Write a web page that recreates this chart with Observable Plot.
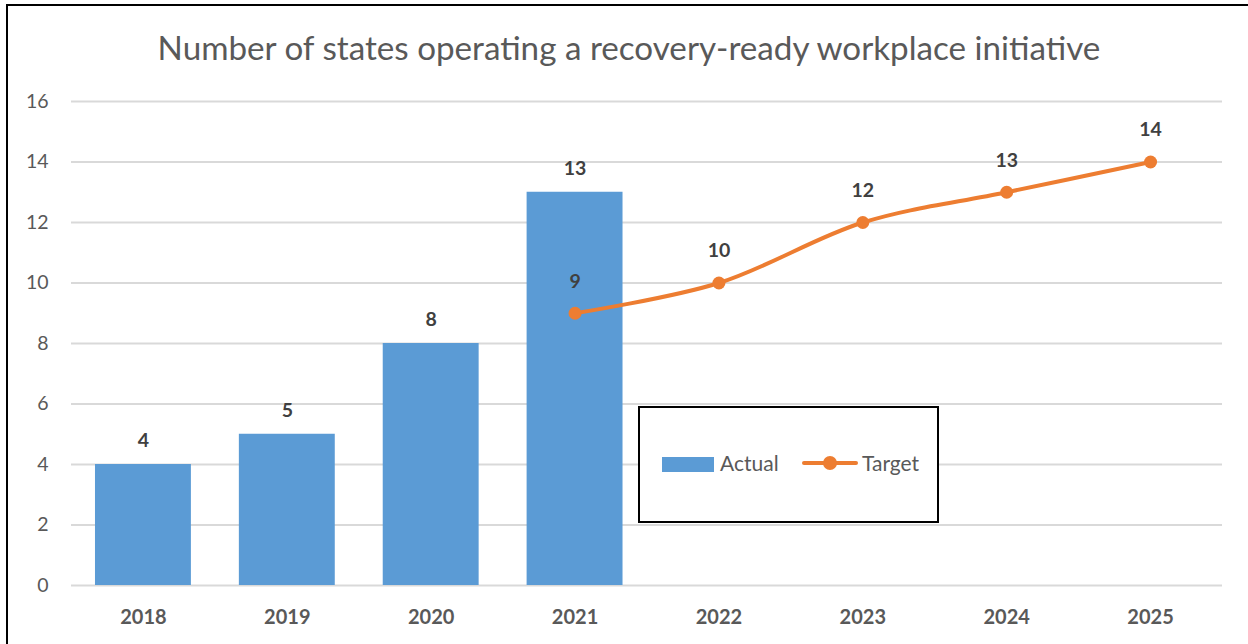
<!DOCTYPE html>
<html>
<head>
<meta charset="utf-8">
<script src="https://cdn.jsdelivr.net/npm/d3@7"></script>
<script src="https://cdn.jsdelivr.net/npm/@observablehq/plot@0.6"></script>
<style>
  html, body { margin: 0; padding: 0; background: #fff; }
  #wrap { position: relative; width: 1248px; height: 644px; overflow: hidden; font-family: Lato, "Open Sans", sans-serif; }
  #frame { position: absolute; left: 6px; top: 4px; width: 1260px; height: 700px; border: 2px solid #000; box-sizing: border-box; }
  #title { position: absolute; left: 0; top: 0; width: 1258px; height: 80px; text-align: center; line-height: 94px; font-size: 33.2px; color: #595959; }
  #chart { position: absolute; left: 0; top: 80px; }
  #legend { position: absolute; left: 638px; top: 406px; width: 301px; height: 117px; border: 2px solid #000; box-sizing: border-box; background: #fff; font-size: 21px; color: #595959; }
  .sw { position: absolute; }
</style>
</head>
<body>
<div id="wrap">
  <div id="frame"></div>
  <div id="title">Number of states operating a recovery-ready workplace initiative</div>
  <div id="chart"></div>
  <div id="legend">
    <div class="sw" style="left:22px;top:49px;width:52px;height:15px;background:#5B9BD5"></div>
    <div class="sw" style="left:80px;top:42px;">Actual</div>
    <div class="sw" style="left:162px;top:53px;width:56px;height:4px;background:#ED7D31;border-radius:2px"></div>
    <div class="sw" style="left:183px;top:48px;width:14px;height:14px;background:#ED7D31;border-radius:50%"></div>
    <div class="sw" style="left:222px;top:42px;">Target</div>
  </div>
</div>
<script>
const years = ["2018","2019","2020","2021","2022","2023","2024","2025"];
const actualYears = ["2018","2019","2020","2021"];
const actualValues = [4, 5, 8, 13];
const targetYears = ["2021","2022","2023","2024","2025"];
const targetValues = [9, 10, 12, 13, 14];
const yTicks = [0, 2, 4, 6, 8, 10, 12, 14, 16];

const actual = actualYears.map((y, i) => ({year: y, value: actualValues[i]}));
const target = targetYears.map((y, i) => ({year: y, value: targetValues[i]}));

const chart = Plot.plot({
  width: 1248,
  height: 564,
  marginLeft: 71,
  marginRight: 26,
  marginTop: 21,
  marginBottom: 59,
  style: {fontFamily: "Lato, 'Open Sans', sans-serif", background: "transparent", overflow: "visible"},
  x: {domain: years, paddingInner: 1/3, paddingOuter: 1/6, round: false, label: null},
  y: {domain: [0, 16], ticks: yTicks, label: null},
  marks: [
    Plot.gridY(yTicks, {stroke: "#d9d9d9", strokeOpacity: 1, strokeWidth: 2}),
    Plot.axisY(yTicks, {tickSize: 0, tickPadding: 23, fontSize: 19.5, fill: "#595959", label: null}),
    Plot.axisX({tickSize: 0, tickPadding: 24, fontSize: 20, fontWeight: "bold", fill: "#595959", label: null}),
    Plot.barY(actual, {x: "year", y: "value", fill: "#5B9BD5"}),
    Plot.text(actual, {x: "year", y: "value", text: d => String(d.value), dy: -24, fontSize: 19.5, fontWeight: "bold", fill: "#404040"}),
    Plot.line(target, {x: "year", y: "value", stroke: "#ED7D31", strokeWidth: 4, curve: "catmull-rom"}),
    Plot.dot(target, {x: "year", y: "value", fill: "#ED7D31", r: 6.5}),
    Plot.text(target, {x: "year", y: "value", text: d => String(d.value), dy: -32, fontSize: 19.5, fontWeight: "bold", fill: "#404040"})
  ]
});
document.getElementById("chart").appendChild(chart);
</script>
</body>
</html>
